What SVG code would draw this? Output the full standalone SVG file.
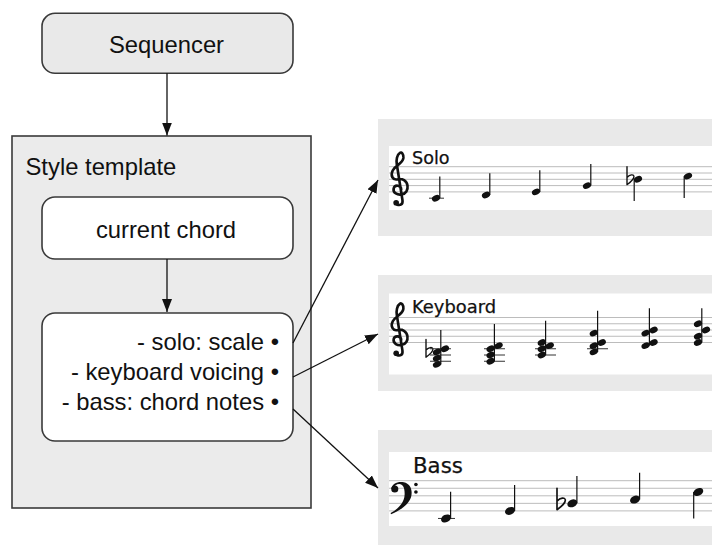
<svg xmlns="http://www.w3.org/2000/svg" width="712" height="545" viewBox="0 0 712 545">
  <defs>
    <style>
      .box{stroke:#3a3a3a;stroke-width:1.6}
      .lbl{font-family:"Liberation Sans",Arial,sans-serif;font-size:23.8px;fill:#111}
      .bg{fill:#e9e9e9}
      .strip{fill:#ffffff}
      .sl{stroke:#bcbcbc;stroke-width:1}
      .stem{stroke:#111;stroke-width:1.2}
      .ledger{stroke:#333;stroke-width:1}
      .part{font-family:"DejaVu Sans",Verdana,sans-serif;fill:#111;stroke:#111;stroke-width:0.25}
      .conn{stroke:#111;stroke-width:1.3;fill:none;marker-end:url(#ah)}
      .glyph{fill:none;stroke:#111;stroke-linecap:round;stroke-linejoin:round}
    </style>
    <marker id="ah" markerUnits="userSpaceOnUse" markerWidth="14" markerHeight="11" refX="13" refY="5" orient="auto">
      <path d="M0,0 L13,5 L0,10 Z" fill="#111"/>
    </marker>
    <!-- note heads: treble staves and the larger bass staff -->
    <ellipse id="hT" rx="4.3" ry="3" transform="rotate(-25)" fill="#111"/>
    <ellipse id="hB" rx="5.2" ry="3.7" transform="rotate(-25)" fill="#111"/>
    <!-- treble clef, in staff-space units, origin on the G line -->
    <g id="gclef">
      <path class="glyph" stroke-width="0.42" d="M0.35,0.6 C0.35,-0.1 -0.7,-0.2 -0.85,0.45 C-1,1.2 -0.2,1.5 0.4,1.4 C1.1,1.3 1.45,0.7 1.35,0 C1.25,-0.8 0.5,-1.2 -0.2,-1 C-1,-0.8 -1.4,-1.6 -1,-2.4 C-0.6,-3.2 0.6,-3.5 0.7,-4.4 C0.75,-5 0.4,-5.4 0.15,-5.2 C-0.35,-4.9 -0.45,-4 -0.35,-3.4 L0.55,2.3 C0.65,3 0.2,3.2 -0.35,3"/>
      <circle cx="-0.45" cy="2.72" r="0.45" fill="#111"/>
    </g>
    <!-- bass clef, in staff-space units, origin on the F line at the left edge -->
    <g id="fclef" fill="#111">
      <path d="M0.05,0.1 C0.1,-0.7 1,-0.95 1.7,-0.8 C2.6,-0.6 2.9,0.3 2.65,1.2 C2.35,2.2 1.1,3 0,3.45 L-0.05,3.28 C1,2.7 1.75,1.9 1.8,0.9 C1.85,0 1.6,-0.55 1.1,-0.55 C0.7,-0.55 0.45,-0.3 0.4,-0.1 Z"/>
      <circle cx="0.5" cy="0.1" r="0.47"/>
      <circle cx="3.3" cy="-0.5" r="0.24"/>
      <circle cx="3.3" cy="0.5" r="0.24"/>
    </g>
    <!-- flat sign, in staff-space units, origin on the altered note -->
    <path id="flat" class="glyph" stroke-width="0.22" d="M0,-2 V0.85 C0.6,0.4 1.15,0 1.1,-0.45 C1.05,-0.85 0.45,-0.75 0,-0.3"/>
  </defs>

  <rect width="712" height="545" fill="#ffffff"/>

  <!-- Sequencer -->
  <g id="sequencer">
    <rect class="box" x="42" y="13.3" width="251" height="60" rx="13" fill="#e9e9e9"/>
    <text class="lbl" x="166.5" y="53" text-anchor="middle">Sequencer</text>
  </g>

  <!-- Style template container -->
  <g id="style-template">
    <rect class="box" x="12" y="136" width="299" height="372" fill="#ebebeb"/>
    <text class="lbl" x="25.5" y="175">Style template</text>
  </g>

  <g id="current-chord">
    <rect class="box" x="42" y="197" width="251" height="62" rx="13" fill="#ffffff"/>
    <text class="lbl" x="166" y="238" text-anchor="middle">current chord</text>
  </g>

  <g id="rules">
    <rect class="box" x="42" y="313" width="251" height="128" rx="13" fill="#ffffff"/>
    <text class="lbl" x="279" y="350" text-anchor="end">- solo: scale •</text>
    <text class="lbl" x="279" y="380" text-anchor="end">- keyboard voicing •</text>
    <text class="lbl" x="279" y="409.5" text-anchor="end">- bass: chord notes •</text>
  </g>

  <!-- Solo staff -->
  <g id="solo">
    <rect class="bg" x="378" y="119" width="334" height="117"/>
    <rect class="strip" x="389" y="146" width="323" height="64"/>
    <g class="sl">
      <line x1="389" y1="166.7" x2="712" y2="166.7"/>
      <line x1="389" y1="173" x2="712" y2="173"/>
      <line x1="389" y1="179.3" x2="712" y2="179.3"/>
      <line x1="389" y1="185.6" x2="712" y2="185.6"/>
      <line x1="389" y1="191.9" x2="712" y2="191.9"/>
    </g>
    <text class="part" x="412" y="164" font-size="17.6">Solo</text>
    <use href="#gclef" transform="translate(399,185.6) scale(6.3)"/>
    <line class="ledger" x1="429" y1="198.2" x2="444" y2="198.2"/>
    <use href="#hT" x="436" y="198.2"/>
    <line class="stem" x1="439.8" y1="198" x2="439.8" y2="176.5"/>
    <use href="#hT" x="486" y="195.05"/>
    <line class="stem" x1="489.8" y1="195" x2="489.8" y2="173.3"/>
    <use href="#hT" x="536" y="191.9"/>
    <line class="stem" x1="539.8" y1="191.9" x2="539.8" y2="170.2"/>
    <use href="#hT" x="587" y="185.6"/>
    <line class="stem" x1="590.8" y1="185.6" x2="590.8" y2="163.9"/>
    <use href="#flat" transform="translate(627,179.3) scale(6.3)"/>
    <use href="#hT" x="638" y="179.3"/>
    <line class="stem" x1="634.2" y1="179.3" x2="634.2" y2="201"/>
    <use href="#hT" x="688" y="176.15"/>
    <line class="stem" x1="684.2" y1="176.15" x2="684.2" y2="197.9"/>
  </g>

  <!-- Keyboard staff -->
  <g id="keyboard">
    <rect class="bg" x="378" y="275" width="334" height="116"/>
    <rect class="strip" x="389" y="293.5" width="323" height="81"/>
    <g class="sl">
      <line x1="389" y1="317.5" x2="712" y2="317.5"/>
      <line x1="389" y1="323.75" x2="712" y2="323.75"/>
      <line x1="389" y1="330" x2="712" y2="330"/>
      <line x1="389" y1="336.25" x2="712" y2="336.25"/>
      <line x1="389" y1="342.5" x2="712" y2="342.5"/>
    </g>
    <text class="part" x="412" y="312.7" font-size="17.9">Keyboard</text>
    <use href="#gclef" transform="translate(399,336.25) scale(6.25)"/>
    <!-- chord 1 -->
    <use href="#flat" transform="translate(426,351.9) scale(6.25)"/>
    <g class="ledger">
      <line x1="430" y1="348.75" x2="451" y2="348.75"/>
      <line x1="430" y1="355" x2="451" y2="355"/>
      <line x1="430" y1="361.25" x2="451" y2="361.25"/>
    </g>
    <use href="#hT" x="437" y="364.4"/>
    <use href="#hT" x="437" y="358.1"/>
    <use href="#hT" x="437" y="351.9"/>
    <use href="#hT" x="445" y="348.75"/>
    <line class="stem" x1="440.8" y1="364.4" x2="440.8" y2="330"/>
    <!-- chord 2 -->
    <g class="ledger">
      <line x1="484" y1="348.75" x2="505" y2="348.75"/>
      <line x1="484" y1="355" x2="505" y2="355"/>
      <line x1="484" y1="361.25" x2="505" y2="361.25"/>
    </g>
    <use href="#hT" x="490.6" y="361.25"/>
    <use href="#hT" x="490.6" y="355"/>
    <use href="#hT" x="490.6" y="348.75"/>
    <use href="#hT" x="498.6" y="345.6"/>
    <line class="stem" x1="494.4" y1="361.25" x2="494.4" y2="324"/>
    <!-- chord 3 -->
    <g class="ledger">
      <line x1="535" y1="348.75" x2="556" y2="348.75"/>
      <line x1="535" y1="355" x2="556" y2="355"/>
    </g>
    <use href="#hT" x="541.8" y="355"/>
    <use href="#hT" x="541.8" y="348.75"/>
    <use href="#hT" x="541.8" y="342.5"/>
    <use href="#hT" x="549.8" y="345.6"/>
    <line class="stem" x1="545.6" y1="355" x2="545.6" y2="320.7"/>
    <!-- chord 4 -->
    <line class="ledger" x1="587" y1="348.75" x2="608" y2="348.75"/>
    <use href="#hT" x="593.8" y="351.9"/>
    <use href="#hT" x="593.8" y="345.6"/>
    <use href="#hT" x="593.8" y="333.1"/>
    <use href="#hT" x="601.8" y="342.5"/>
    <line class="stem" x1="597.6" y1="351.9" x2="597.6" y2="310.7"/>
    <!-- chord 5 -->
    <use href="#hT" x="645.6" y="345.6"/>
    <use href="#hT" x="645.6" y="333.1"/>
    <use href="#hT" x="653.6" y="342.5"/>
    <use href="#hT" x="653.6" y="330"/>
    <line class="stem" x1="649.4" y1="345.6" x2="649.4" y2="308.3"/>
    <!-- chord 6 -->
    <use href="#hT" x="698" y="342.5"/>
    <use href="#hT" x="698" y="336.25"/>
    <use href="#hT" x="698" y="323.75"/>
    <use href="#hT" x="706" y="330"/>
    <line class="stem" x1="701.8" y1="342.5" x2="701.8" y2="308.3"/>
  </g>

  <!-- Bass staff -->
  <g id="bass">
    <rect class="bg" x="378" y="430" width="334" height="115"/>
    <rect class="strip" x="389" y="452" width="323" height="74"/>
    <g class="sl">
      <line x1="389" y1="480.7" x2="712" y2="480.7"/>
      <line x1="389" y1="488.25" x2="712" y2="488.25"/>
      <line x1="389" y1="495.8" x2="712" y2="495.8"/>
      <line x1="389" y1="503.35" x2="712" y2="503.35"/>
      <line x1="389" y1="510.9" x2="712" y2="510.9"/>
    </g>
    <text class="part" x="413" y="472.7" font-size="21.3">Bass</text>
    <use href="#fclef" transform="translate(391,488.25) scale(7.55)"/>
    <line class="ledger" x1="438" y1="518.45" x2="455" y2="518.45"/>
    <use href="#hB" x="446" y="518.45"/>
    <line class="stem" x1="450.6" y1="518.4" x2="450.6" y2="491.7"/>
    <use href="#hB" x="510" y="510.9"/>
    <line class="stem" x1="514.6" y1="510.9" x2="514.6" y2="485"/>
    <use href="#flat" transform="translate(557,503.35) scale(7.55)"/>
    <use href="#hB" x="572.3" y="503.35"/>
    <line class="stem" x1="576.9" y1="503.35" x2="576.9" y2="476"/>
    <use href="#hB" x="635" y="499.6"/>
    <line class="stem" x1="639.6" y1="499.6" x2="639.6" y2="472.7"/>
    <use href="#hB" x="698.3" y="492"/>
    <line class="stem" x1="693.7" y1="492" x2="693.7" y2="518.5"/>
  </g>

  <!-- connectors -->
  <g id="connectors">
    <line class="conn" x1="167" y1="73.3" x2="167" y2="135.5"/>
    <line class="conn" x1="167" y1="259" x2="167" y2="312"/>
    <line class="conn" x1="293" y1="343" x2="378" y2="180"/>
    <line class="conn" x1="293" y1="377" x2="378" y2="334"/>
    <line class="conn" x1="293" y1="409" x2="378" y2="488"/>
  </g>
</svg>
